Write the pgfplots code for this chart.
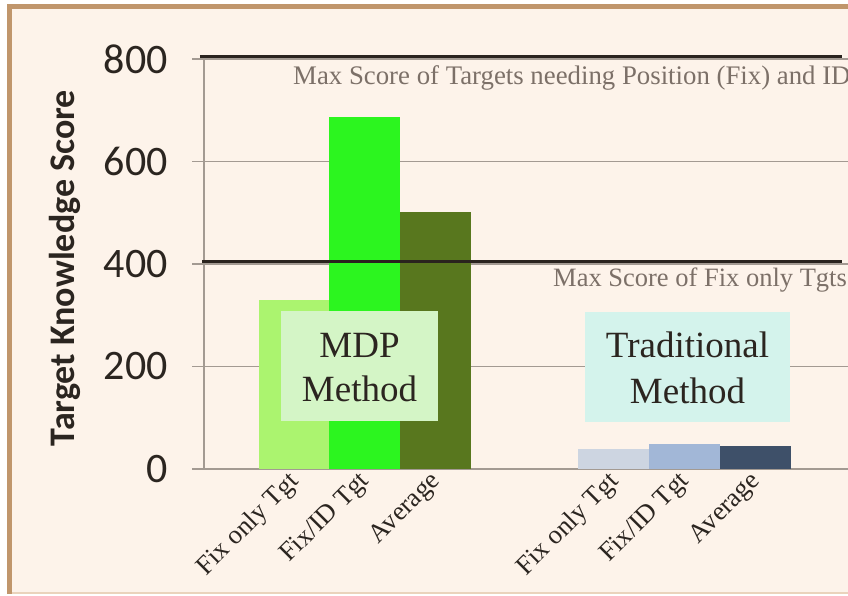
\documentclass[border=0pt]{standalone}
\usepackage{pgfplots}
\pgfplotsset{compat=1.18}
\usepackage{fontspec}
\setmainfont{Liberation Serif}
\newfontfamily\carlito{Carlito}
\definecolor{cream}{HTML}{FDF3EA}
\definecolor{borderbrown}{HTML}{C0966C}
\definecolor{borderlight}{HTML}{EAD3BC}
\definecolor{lgreen}{HTML}{ABF46F}
\definecolor{bgreen}{HTML}{2CF51F}
\definecolor{olive}{HTML}{58771E}
\definecolor{tlight}{HTML}{CDD5E1}
\definecolor{tmid}{HTML}{A2B7D7}
\definecolor{tdark}{HTML}{3E5069}
\definecolor{gridgray}{HTML}{A39A92}
\definecolor{refblack}{HTML}{2A231E}
\definecolor{textdark}{HTML}{2B2520}
\definecolor{annogray}{HTML}{7C7068}
\definecolor{mdpbox}{HTML}{D4F5C6}
\definecolor{tradbox}{HTML}{D4F3EC}
\begin{document}
\begin{tikzpicture}[x=1pt,y=1pt]
\useasboundingbox (0,0) rectangle (848,595);
\clip (0,0) rectangle (848,595);
\fill[white] (0,0) rectangle (848,595);
\fill[borderbrown] (7,1) rectangle (850,591);
\fill[cream] (12,3) rectangle (850,586);
\fill[borderlight] (12,1) rectangle (850,3);
\begin{axis}[
  at={(204pt,126pt)}, anchor=south west,
  scale only axis, width=656pt, height=410pt,
  xmin=-1.272, xmax=8.0, ymin=0, ymax=800,
  axis lines*=left,
  axis line style={draw=gridgray, line width=2pt},
  ytick={0,200,400,600,800},
  xtick={0,1,2,4.52,5.52,6.52},
  xticklabels={Fix only Tgt, Fix/ID Tgt, Average, Fix only Tgt, Fix/ID Tgt, Average},
  x tick style={draw=none},
  ymajorgrids, grid style={draw=gridgray, line width=1.8pt},
  y tick style={draw=gridgray, line width=1.8pt},
  tick align=outside, major tick length=12pt,
  /pgf/number format/assume math mode=true,
  yticklabel style={font=\carlito\fontsize{42}{42}\selectfont, text=textdark, anchor=east, inner sep=0pt, xshift=-24pt},
  xticklabel style={font=\fontsize{26.5}{26.5}\selectfont, text=textdark, xshift=-7pt, yshift=13pt, rotate=45, anchor=north east, inner sep=1pt},
  clip=false,
]
\addplot[ybar, bar width=1, bar shift=0pt, fill=lgreen, draw=none] coordinates {(0,330)};
\addplot[ybar, bar width=1, bar shift=0pt, fill=bgreen, draw=none] coordinates {(1,687)};
\addplot[ybar, bar width=1, bar shift=0pt, fill=olive, draw=none] coordinates {(2,501)};
\addplot[ybar, bar width=1, bar shift=0pt, fill=tlight, draw=none] coordinates {(4.52,40)};
\addplot[ybar, bar width=1, bar shift=0pt, fill=tmid, draw=none] coordinates {(5.52,49)};
\addplot[ybar, bar width=1, bar shift=0pt, fill=tdark, draw=none] coordinates {(6.52,45)};
\addplot[sharp plot, no marks, draw=refblack, line width=3pt] coordinates {(-1.33,804) (7.745,804)};
\addplot[sharp plot, no marks, draw=refblack, line width=3pt] coordinates {(-1.30,405) (7.745,405)};
\end{axis}
\node[anchor=base west, inner sep=0pt, text=annogray, font=\fontsize{26.8}{26.8}\selectfont] at (293,510) {Max Score of Targets needing Position (Fix) and ID};
\node[anchor=base west, inner sep=0pt, text=annogray, font=\fontsize{26.5}{26.5}\selectfont] at (553,308) {Max Score of Fix only Tgts};
\fill[mdpbox] (281,174) rectangle (438,284);
\node[anchor=base, inner sep=0pt, text=textdark, font=\fontsize{37}{37}\selectfont] at (359.5,238) {MDP};
\node[anchor=base, inner sep=0pt, text=textdark, font=\fontsize{37}{37}\selectfont] at (359.5,194) {Method};
\fill[tradbox] (585,173) rectangle (790,283);
\node[anchor=base, inner sep=0pt, text=textdark, font=\fontsize{37}{37}\selectfont] at (687.5,238) {Traditional};
\node[anchor=base, inner sep=0pt, text=textdark, font=\fontsize{37}{37}\selectfont] at (687.5,192) {Method};
\node[rotate=90, inner sep=0pt, text=textdark, font=\carlito\bfseries\fontsize{36}{36}\selectfont] at (65,327) {Target Knowledge Score};
\end{tikzpicture}
\end{document}
